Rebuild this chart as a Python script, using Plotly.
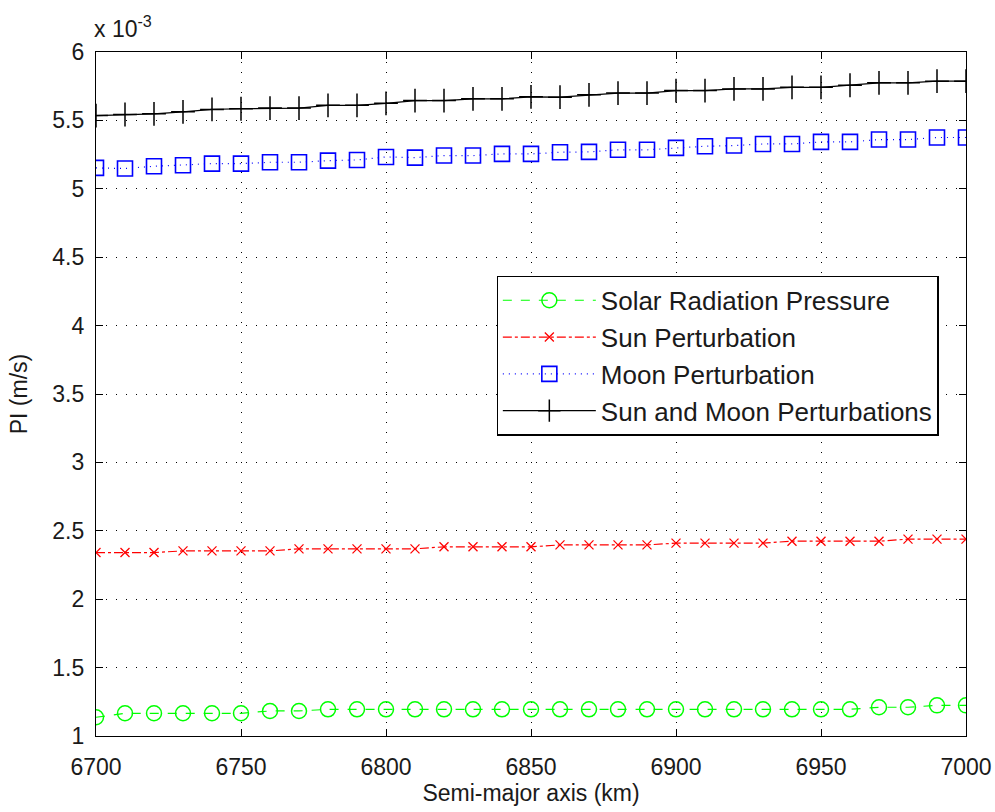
import plotly.graph_objects as go

# Semi-major axis (km)
semi_major_axis = list(range(6700, 7001, 10))

# PI values in units of 1e-3 m/s
solar_radiation = [1.137, 1.166, 1.166, 1.166, 1.166, 1.166, 1.183, 1.183, 1.195, 1.195,
                   1.195, 1.195, 1.195, 1.195, 1.195, 1.195, 1.195, 1.195, 1.195, 1.195,
                   1.195, 1.195, 1.195, 1.195, 1.195, 1.195, 1.195, 1.210, 1.210, 1.224, 1.224]
sun_perturbation = [2.341, 2.341, 2.341, 2.353, 2.353, 2.353, 2.353, 2.368, 2.368, 2.368,
                    2.368, 2.368, 2.383, 2.383, 2.383, 2.383, 2.397, 2.397, 2.397, 2.397,
                    2.410, 2.410, 2.410, 2.410, 2.424, 2.424, 2.424, 2.424, 2.439, 2.439, 2.439]
moon_perturbation = [5.153, 5.148, 5.165, 5.172, 5.184, 5.184, 5.194, 5.194, 5.206, 5.211,
                     5.233, 5.228, 5.243, 5.243, 5.255, 5.255, 5.267, 5.270, 5.285, 5.285,
                     5.299, 5.311, 5.316, 5.328, 5.328, 5.343, 5.343, 5.360, 5.360, 5.375, 5.375]
sun_moon = [5.535, 5.543, 5.548, 5.563, 5.580, 5.585, 5.590, 5.590, 5.610, 5.610,
            5.625, 5.645, 5.645, 5.658, 5.658, 5.672, 5.670, 5.687, 5.700, 5.700,
            5.718, 5.718, 5.730, 5.730, 5.742, 5.742, 5.757, 5.775, 5.775, 5.787, 5.787]

series_names = ["Solar Radiation Pressure", "Sun Perturbation", "Moon Perturbation",
                "Sun and Moon Perturbations"]
x_ticks = [6700, 6750, 6800, 6850, 6900, 6950, 7000]
y_ticks = [1, 1.5, 2, 2.5, 3, 3.5, 4, 4.5, 5, 5.5, 6]

FONT = "Liberation Sans, Arial, sans-serif"
TXT = "#1a1a1a"

fig = go.Figure()
fig.add_trace(go.Scatter(
    x=semi_major_axis, y=solar_radiation, name=series_names[0], mode="lines+markers",
    legendgroup="g1",
    line=dict(color="#00ff00", width=1.2, dash="dash"),
    marker=dict(symbol="circle-open", size=15, color="#00ff00", line=dict(width=1.5))))
fig.add_trace(go.Scatter(
    x=semi_major_axis, y=sun_perturbation, name=series_names[1], mode="lines+markers",
    legendgroup="g2",
    line=dict(color="#ff0000", width=1.2, dash="dashdot"),
    marker=dict(symbol="x-thin-open", size=9, color="#ff0000", line=dict(width=1.3, color="#ff0000"))))
fig.add_trace(go.Scatter(
    x=semi_major_axis, y=moon_perturbation, name=series_names[2], mode="lines+markers",
    legendgroup="g3",
    line=dict(color="#0000ff", width=1.2, dash="1px,5px"),
    marker=dict(symbol="square-open", size=15, color="#0000ff", line=dict(width=1.6))))
fig.add_trace(go.Scatter(
    x=semi_major_axis, y=sun_moon, name=series_names[3], mode="lines+markers",
    legendgroup="g4",
    line=dict(color="#000000", width=1.2),
    marker=dict(symbol="cross-thin-open", size=17, color="#000000", line=dict(width=1.5, color="#000000"))))

axis_common = dict(
    showline=True, linecolor="black", linewidth=1.2, mirror="ticks",
    ticks="inside", ticklen=7, tickcolor="black", tickwidth=1.2,
    showgrid=True, gridcolor="black", griddash="1px,9px", gridwidth=1,
    zeroline=False, automargin=False,
    tickfont=dict(family=FONT, size=23, color=TXT),
)

fig.update_xaxes(range=[6700, 7000], tickvals=x_ticks, ticktext=[str(v) for v in x_ticks],
                 ticklabelstandoff=10,
                 title=dict(text="Semi-major axis (km)", font=dict(family=FONT, size=23, color=TXT),
                            standoff=4),
                 **axis_common)
fig.update_yaxes(range=[1, 6], tickvals=y_ticks, ticktext=[f"{v:g}" for v in y_ticks],
                 ticklabelstandoff=6,
                 title=dict(text="PI (m/s)", font=dict(family=FONT, size=23, color=TXT),
                            standoff=18),
                 **axis_common)

fig.add_annotation(xref="paper", yref="paper", x=0.0, y=1.0, xanchor="left", yanchor="bottom",
                   text="x 10<sup>-3</sup>", showarrow=False, yshift=8, xshift=-4,
                   font=dict(family=FONT, size=23, color=TXT))

fig.update_layout(
    width=995, height=812,
    margin=dict(l=96, r=29, t=52, b=76),
    plot_bgcolor="white", paper_bgcolor="white",
    showlegend=True,
    legend=dict(x=0.4605, y=0.673, xanchor="left", yanchor="top",
                bgcolor="white", bordercolor="black", borderwidth=1.2,
                font=dict(family=FONT, size=26, color=TXT),
                tracegroupgap=0, itemwidth=93),
)

fig.write_html("out.html")
